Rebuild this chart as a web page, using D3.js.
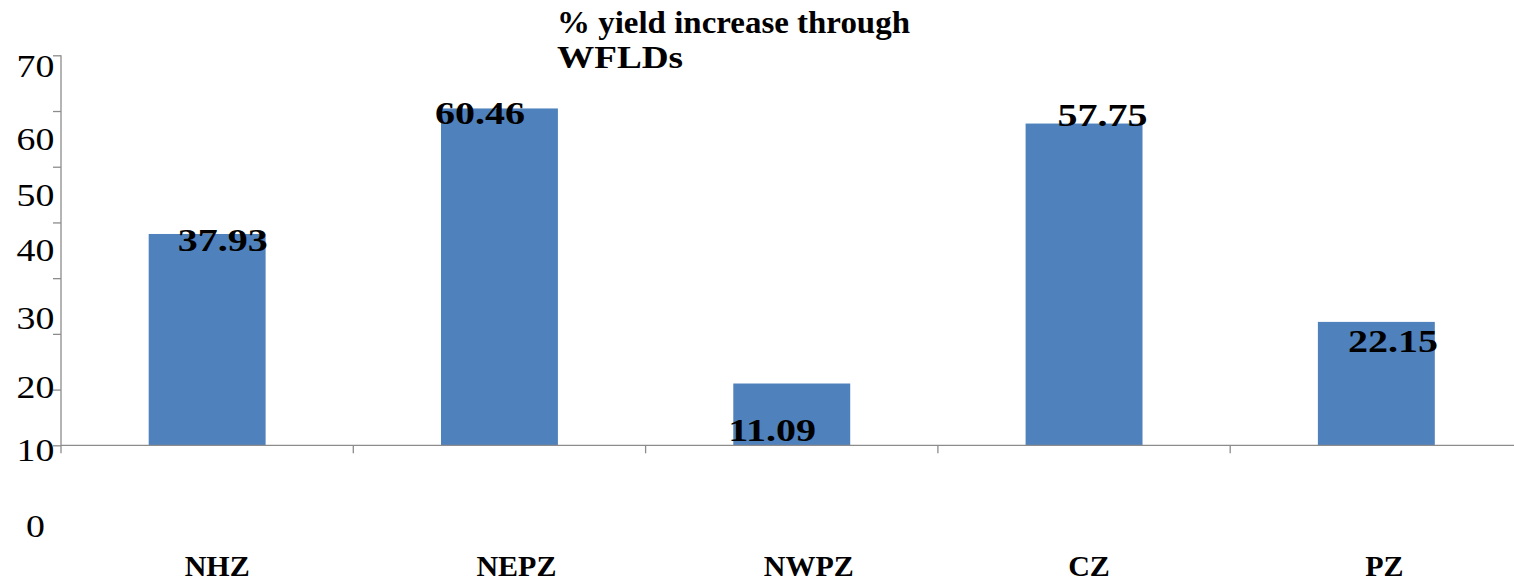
<!DOCTYPE html>
<html>
<head>
<meta charset="utf-8">
<script src="https://cdn.jsdelivr.net/npm/d3@7"></script>
<style>
  html, body { margin: 0; padding: 0; background: #ffffff; }
  svg { display: block; }
  text { font-family: "Liberation Serif", "Times New Roman", serif; fill: #000; }
</style>
</head>
<body>
<svg id="chart" width="1514" height="583"></svg>
<script>
// ---- data ----
const categories = ["NHZ", "NEPZ", "NWPZ", "CZ", "PZ"];
const values = [37.93, 60.46, 11.09, 57.75, 22.15];
const valueLabels = ["37.93", "60.46", "11.09", "57.75", "22.15"];
const yTicks = [0, 10, 20, 30, 40, 50, 60, 70];
const yTickLabels = ["0", "10", "20", "30", "40", "50", "60", "70"];
const titleLines = ["% yield increase through", "WFLDs"];

// ---- layout ----
const W = 1514, H = 583;
const axisX = 61, axisTop = 55.3, axisBottom = 445.3;
const plotRight = 1522.5;
const barColor = "#4F81BD";
const axisColor = "#8c8c8c";
// offsets of the tick labels below their ticks (original layout quirk)
const yLabelShift = {0: 91.7, 10: 71.7, 20: 64.6, 30: 51, 40: 38.4, 50: 39, 60: 39, 70: 22};
// value label placement relative to bar's top-left corner
const valDx = [29, -6, -5, 32, 30];
const valDy = [17.3, 16, 57.7, 2.7, 30.6];
const catDx = [10, 17, 17, 5, 8];

const svg = d3.select("#chart");

const y = d3.scaleLinear().domain([0, 70]).range([axisBottom, axisTop]);
const x = d3.scaleBand().domain(categories).range([axisX, plotRight])
  .paddingInner(0.6).paddingOuter(0.3);

// bars
svg.append("g").selectAll("rect")
  .data(values)
  .join("rect")
  .attr("x", (d, i) => x(categories[i]))
  .attr("y", d => y(d))
  .attr("width", x.bandwidth())
  .attr("height", d => y(0) - y(d))
  .attr("fill", barColor);

// y axis
const yAxis = svg.append("g")
  .attr("transform", `translate(${axisX},0)`)
  .call(d3.axisLeft(y).tickValues(yTicks).tickSize(8).tickFormat(""));
yAxis.select(".domain").attr("stroke", axisColor).attr("stroke-width", 1.3)
  .attr("d", `M-0,${axisTop}V${axisBottom + 8}`);
yAxis.selectAll(".tick line").attr("stroke", axisColor).attr("stroke-width", 1.3);

// y tick labels
svg.append("g").selectAll("text")
  .data(yTicks)
  .join("text")
  .attr("transform", (d) => `translate(35.5,${y(d) + yLabelShift[d]}) scale(1.22,1)`)
  .attr("text-anchor", "middle")
  .style("font-size", "31px")
  .text((d, i) => yTickLabels[i]);

// x axis line
svg.append("line")
  .attr("x1", axisX).attr("x2", plotRight)
  .attr("y1", y(0)).attr("y2", y(0))
  .attr("stroke", axisColor).attr("stroke-width", 1.3);

// x boundary ticks
const boundaries = categories.slice(1).map(c => x(c) - x.step() * x.paddingInner() / 2);
svg.append("g").selectAll("line")
  .data(boundaries)
  .join("line")
  .attr("x1", d => d).attr("x2", d => d)
  .attr("y1", y(0)).attr("y2", y(0) + 8)
  .attr("stroke", axisColor).attr("stroke-width", 1.3);

// category labels
svg.append("g").selectAll("text")
  .data(categories)
  .join("text")
  .attr("x", (d, i) => x(d) + x.bandwidth() / 2 + catDx[i])
  .attr("y", 576)
  .attr("text-anchor", "middle")
  .style("font-size", "30px")
  .style("font-weight", "bold")
  .text(d => d);

// value labels
svg.append("g").selectAll("text")
  .data(values)
  .join("text")
  .attr("transform", (d, i) => `translate(${x(categories[i]) + valDx[i]},${y(d) + valDy[i]}) scale(1.25,1)`)
  .style("font-size", "32px")
  .style("font-weight", "bold")
  .text((d, i) => valueLabels[i]);

// title
const title = svg.append("g");
title.append("text")
  .attr("x", 557).attr("y", 33)
  .attr("textLength", 353).attr("lengthAdjust", "spacingAndGlyphs")
  .style("font-size", "31px").style("font-weight", "bold")
  .text(titleLines[0]);
title.append("text")
  .attr("transform", "translate(557,68.3) scale(1.2,1)")
  .style("font-size", "31px").style("font-weight", "bold")
  .text(titleLines[1]);
</script>
</body>
</html>
